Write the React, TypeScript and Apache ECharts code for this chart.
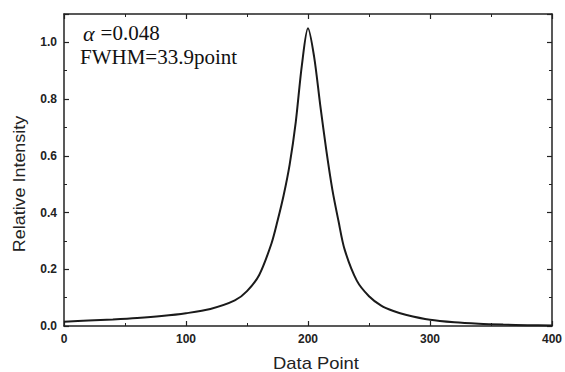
import React, { useEffect, useRef } from "react";
import * as echarts from "echarts";

const xPoints = [0, 20, 40, 60, 80, 100, 120, 140, 150, 160, 170, 175, 180, 185, 190, 195, 200, 205, 210, 215, 220, 225, 230, 240, 250, 260, 270, 280, 300, 320, 340, 360, 380, 400];
const intensity = [0.015, 0.019, 0.023, 0.028, 0.035, 0.045, 0.06, 0.09, 0.123, 0.18, 0.29, 0.37, 0.46, 0.57, 0.72, 0.92, 1.05, 0.95, 0.78, 0.62, 0.48, 0.37, 0.27, 0.16, 0.105, 0.072, 0.053, 0.04, 0.022, 0.013, 0.008, 0.005, 0.003, 0.002];
const xTicks = [0, 100, 200, 300, 400];
const yTicks = [0, 0.2, 0.4, 0.6, 0.8, 1.0];
const annotations = ["=0.048", "FWHM=33.9point"];
const xTitle = "Data Point";
const yTitle = "Relative Intensity";

export default function App() {
  const ref = useRef<HTMLDivElement>(null);
  useEffect(() => {
    if (!ref.current) return;
    const chart = echarts.init(ref.current, null, { renderer: "svg", width: 565, height: 372 });
    const axisLine = { show: true, onZero: false, lineStyle: { color: "#222", width: 1.5 } };
    const tick = { show: true, inside: true, length: 5, lineStyle: { color: "#222", width: 1.2 } };
    const minor = { show: true, splitNumber: 2, length: 3, lineStyle: { color: "#222", width: 1 } };
    const labelFont = { fontFamily: "Liberation Sans", fontSize: 12, fontWeight: "bold", color: "#222" };
    chart.setOption({
      animation: false,
      backgroundColor: "#fff",
      grid: { left: 64, width: 495, top: 14, height: 312 },
      xAxis: [
        {
          type: "value",
          min: xTicks[0],
          max: xTicks[xTicks.length - 1],
          interval: 100,
          position: "bottom",
          axisLine,
          axisTick: tick,
          minorTick: minor,
          splitLine: { show: false },
          axisLabel: { ...labelFont, margin: 7 },
        },
        {
          type: "value",
          min: 0,
          max: 400,
          interval: 100,
          position: "top",
          axisLine,
          axisTick: tick,
          minorTick: minor,
          splitLine: { show: false },
          axisLabel: { show: false },
        },
      ],
      yAxis: [
        {
          type: "value",
          min: 0,
          max: 1.1,
          interval: 0.2,
          position: "left",
          axisLine,
          axisTick: tick,
          minorTick: minor,
          splitLine: { show: false },
          axisLabel: {
            ...labelFont,
            margin: 7,
            showMaxLabel: false,
            formatter: (v: number) => (yTicks.some((t) => Math.abs(t - v) < 1e-6) ? v.toFixed(1) : ""),
          },
        },
        {
          type: "value",
          min: 0,
          max: 1.1,
          interval: 0.2,
          position: "right",
          axisLine,
          axisTick: tick,
          minorTick: minor,
          splitLine: { show: false },
          axisLabel: { show: false },
        },
      ],
      series: [
        {
          type: "line",
          data: xPoints.map((x, i) => [x, intensity[i]]),
          smooth: 0.3,
          showSymbol: false,
          lineStyle: { color: "#1a1a1a", width: 2 },
          xAxisIndex: 0,
          yAxisIndex: 0,
        },
      ],
      graphic: [
        {
          type: "text",
          x: 83,
          y: 33,
          style: {
            text: "{a|α}" + annotations[0],
            fontFamily: "Liberation Serif",
            fontSize: 21,
            fill: "#111",
            verticalAlign: "middle",
            rich: {
              a: { fontFamily: "Liberation Serif", fontStyle: "italic", fontSize: 22, fill: "#111", padding: [0, 6, 0, 0] },
            },
          },
        },
        {
          type: "text",
          x: 80,
          y: 57,
          style: { text: annotations[1], fontFamily: "Liberation Serif", fontSize: 21, fill: "#111", verticalAlign: "middle" },
        },
        {
          type: "text",
          x: 316,
          y: 363,
          scaleX: 1.15,
          style: { text: xTitle, fontFamily: "Liberation Sans", fontSize: 16, fill: "#222", align: "center", verticalAlign: "middle" },
        },
        {
          type: "text",
          x: 20,
          y: 184,
          rotation: Math.PI / 2,
          scaleX: 1.12,
          style: { text: yTitle, fontFamily: "Liberation Sans", fontSize: 16, fill: "#222", align: "center", verticalAlign: "middle" },
        },
      ],
    });
    return () => chart.dispose();
  }, []);
  return <div ref={ref} style={{ position: "absolute", left: 0, top: 0, width: 565, height: 372 }} />;
}
